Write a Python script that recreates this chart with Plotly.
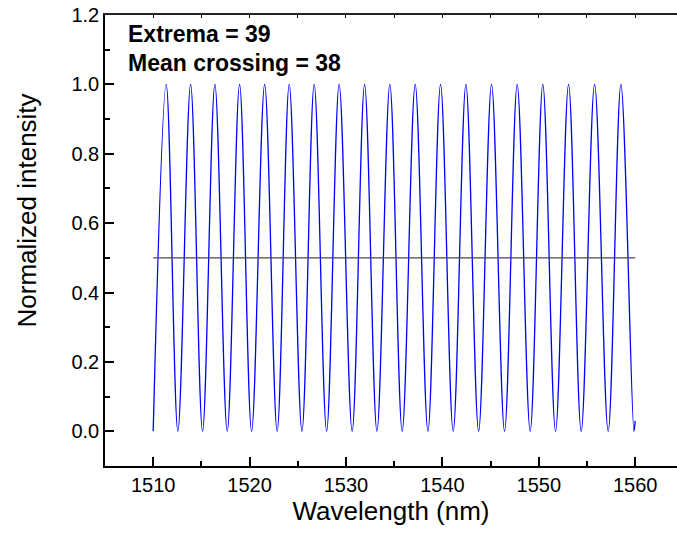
import plotly.graph_objects as go

# Wavelengths (nm) of intensity maxima (value 1.0)
peak_wl = [1511.35, 1513.88, 1516.40, 1518.96, 1521.56, 1524.11, 1526.70, 1529.29,
           1531.93, 1534.55, 1537.18, 1539.81, 1542.44, 1545.10, 1547.76, 1550.42,
           1553.09, 1555.79, 1558.52]
peak_val = [1.0] * len(peak_wl)

# Wavelengths (nm) of intensity minima (value 0.0)
trough_wl = [1510.00, 1512.56, 1515.12, 1517.68, 1520.21, 1522.86, 1525.43, 1527.99,
             1530.64, 1533.21, 1535.83, 1538.50, 1541.12, 1543.76, 1546.45, 1549.11,
             1551.74, 1554.40, 1557.20, 1559.87]
trough_val = [0.0] * len(trough_wl)

# final sample at the end of the scan
end_wl = [1560.0]
end_val = [0.03]

# mean level line
mean_wl = [1510, 1560]
mean_val = [0.5, 0.5]

n_extrema = 39
n_crossings = 38

pts = sorted(zip(peak_wl + trough_wl + end_wl, peak_val + trough_val + end_val))
xs = [p[0] for p in pts]
ys = [p[1] for p in pts]

FONT = "Liberation Sans, Arial, sans-serif"

fig = go.Figure()
fig.add_trace(go.Scatter(x=mean_wl, y=mean_val, mode="lines",
                         line=dict(color="#4a4a4a", width=1.3),
                         xaxis="x2", yaxis="y", showlegend=False))
fig.add_trace(go.Scatter(x=xs, y=ys, mode="lines",
                         line=dict(color="#0000ff", width=1.3, shape="spline", smoothing=1),
                         showlegend=False))

xr = [1505, 1564.34]
fig.update_layout(
    width=677, height=533,
    margin=dict(l=105, r=0, t=15, b=67),
    paper_bgcolor="white", plot_bgcolor="white",
    font=dict(family=FONT, color="black", size=20),
    xaxis=dict(range=xr, showline=True, linecolor="black", linewidth=1.6,
               ticks="inside", ticklen=9, tickwidth=1.6, tickcolor="black",
               tick0=1510, dtick=10, showgrid=False, zeroline=False,
               tickfont=dict(size=20, family=FONT, color="black"),
               minor=dict(ticks="inside", ticklen=5, tickwidth=1.6, dtick=5,
                          tick0=1505, tickcolor="black", showgrid=False),
               title=dict(text="Wavelength (nm)", font=dict(size=26, family=FONT), standoff=5)),
    xaxis2=dict(range=xr, overlaying="x", side="top", anchor="y", showline=True,
                linecolor="#222222", linewidth=2, ticks="inside", ticklen=3,
                tickwidth=1.2, tickcolor="black", tick0=1505, dtick=5,
                showticklabels=False, showgrid=False, zeroline=False),
    yaxis=dict(range=[-0.1, 1.2], showline=True, linecolor="black", linewidth=1.6,
               ticks="inside", ticklen=9, tickwidth=1.6, tickcolor="black",
               tick0=0, dtick=0.2, tickformat=".1f", showgrid=False, zeroline=False,
               tickfont=dict(size=20, family=FONT, color="black"),
               minor=dict(ticks="inside", ticklen=5, tickwidth=1.6, dtick=0.1,
                          tick0=0, tickcolor="black", showgrid=False)),
)

# y-axis title (rotated text, centred where the reference has it)
fig.add_annotation(xref="paper", yref="paper", x=-0.136, y=0.567, xanchor="center",
                   yanchor="middle", showarrow=False, textangle=-90,
                   text="Normalized intensity", font=dict(size=26, family=FONT))

fig.add_annotation(xref="paper", yref="paper", x=0.037, y=0.958, xanchor="left",
                   yanchor="middle", showarrow=False,
                   text=f"<b>Extrema = {n_extrema}</b>", font=dict(size=23, family=FONT))
fig.add_annotation(xref="paper", yref="paper", x=0.037, y=0.893, xanchor="left",
                   yanchor="middle", showarrow=False,
                   text=f"<b>Mean crossing = {n_crossings}</b>", font=dict(size=23, family=FONT))

fig.write_html("out.html")
